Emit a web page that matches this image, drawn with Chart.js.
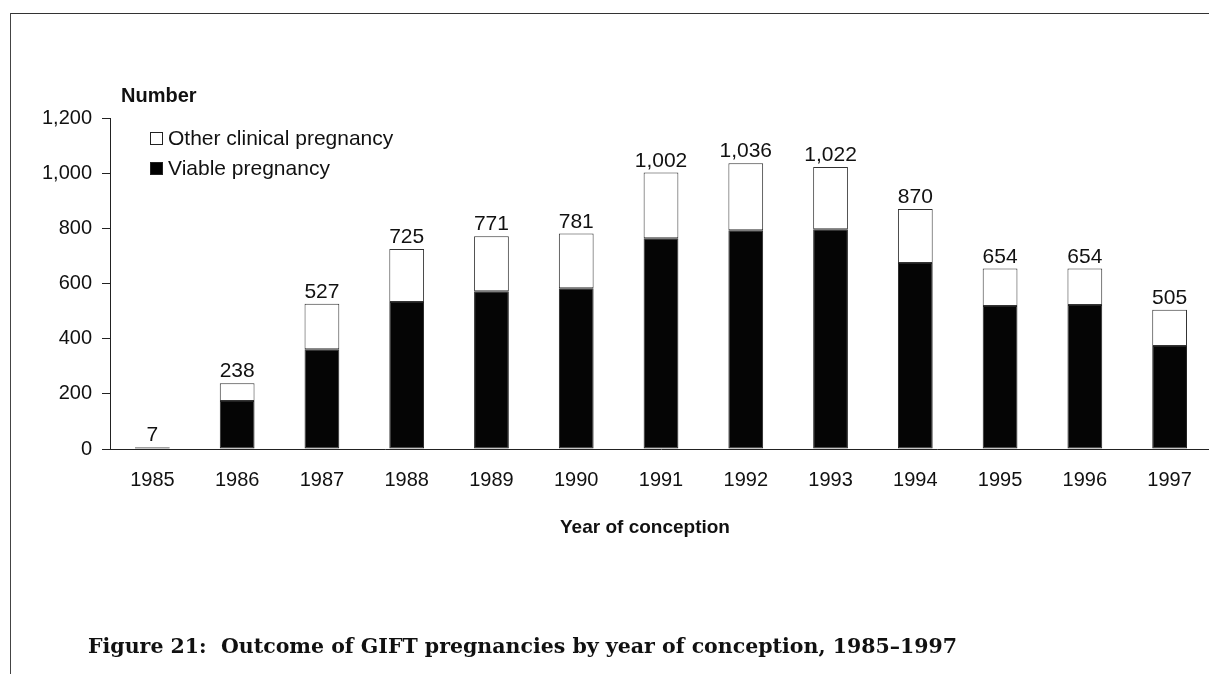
<!DOCTYPE html>
<html>
<head>
<meta charset="utf-8">
<script src="https://cdn.jsdelivr.net/npm/chart.js@4"></script>
<style>
  body { margin: 0; background: #fff; }
  #wrap { position: relative; width: 1209px; height: 674px; overflow: hidden; }
  #frameTop { position: absolute; left: 10px; top: 13px; width: 1199px; height: 1px; background: #333; }
  #frameLeft { position: absolute; left: 10px; top: 13px; width: 1px; height: 661px; background: #444; }
  .lbl { position: absolute; font-family: "Liberation Sans", Arial, sans-serif; color: #111; white-space: nowrap; line-height: 24px; }
  .box { display: inline-block; width: 11px; height: 11px; border: 1px solid #222; margin-right: 5px; vertical-align: 0px; }
  #caption { position: absolute; left: 88px; top: 634px; font-family: "DejaVu Serif", serif; font-weight: bold; font-size: 20.5px; color: #111; white-space: nowrap; }
  canvas { position: absolute; left: 0; top: 0; }
</style>
</head>
<body>
<div id="wrap">
  <canvas id="gift" width="1215" height="674"></canvas>
  <div id="frameTop"></div>
  <div id="frameLeft"></div>
  <div class="lbl" style="left:121px; top:83px; font-size:20px; font-weight:bold;">Number</div>
  <div class="lbl" style="left:150px; top:126px; font-size:21px;"><span class="box" style="background:#fff"></span>Other clinical pregnancy</div>
  <div class="lbl" style="left:150px; top:156px; font-size:21px;"><span class="box" style="background:#000"></span>Viable pregnancy</div>
  <div class="lbl" style="left:560px; top:515px; font-size:19px; font-weight:bold;">Year of conception</div>
  <div id="caption">Figure 21:&nbsp; Outcome of GIFT pregnancies by year of conception, 1985–1997</div>
</div>
<script>
// years and pregnancy counts
const years = ["1985", "1986", "1987", "1988", "1989", "1990", "1991", "1992", "1993", "1994", "1995", "1996", "1997"];
const totals = [7, 238, 527, 725, 771, 781, 1002, 1036, 1022, 870, 654, 654, 505];
const viable = [5, 174, 362, 533, 572, 583, 764, 793, 797, 674, 518, 522, 373];
const other = totals.map((t, i) => t - viable[i]);
const yTicks = [0, 200, 400, 600, 800, 1000, 1200];

// write the total above each stacked bar
const totalLabels = {
  id: "totalLabels",
  afterDatasetsDraw(chart) {
    const ctx = chart.ctx;
    const meta = chart.getDatasetMeta(1);
    ctx.save();
    ctx.font = "21px 'Liberation Sans', Arial, sans-serif";
    ctx.fillStyle = "#111";
    ctx.textAlign = "center";
    ctx.textBaseline = "alphabetic";
    meta.data.forEach((bar, i) => {
      ctx.fillText(totals[i].toLocaleString("en-US"), bar.x, bar.y - 6);
    });
    ctx.restore();
  }
};

new Chart(document.getElementById("gift"), {
  type: "bar",
  data: {
    labels: years,
    datasets: [
      {
        label: "Viable pregnancy",
        data: viable,
        backgroundColor: "#050505",
        borderColor: "#222",
        borderWidth: 1,
        borderSkipped: false,
        categoryPercentage: 1,
        barPercentage: 0.41
      },
      {
        label: "Other clinical pregnancy",
        data: other,
        backgroundColor: "#fff",
        borderColor: "#333",
        borderWidth: 1,
        borderSkipped: false,
        categoryPercentage: 1,
        barPercentage: 0.41
      }
    ]
  },
  options: {
    responsive: false,
    animation: false,
    layout: { padding: { top: 118, right: 3, left: 0, bottom: 0 } },
    plugins: { legend: { display: false }, tooltip: { enabled: false } },
    scales: {
      x: {
        stacked: true,
        grid: { display: false, drawTicks: false },
        border: { color: "#222", width: 1 },
        ticks: { color: "#111", padding: 19, font: { size: 20, family: "'Liberation Sans', Arial, sans-serif" } },
        afterFit: (s) => { s.height = 225; }
      },
      y: {
        stacked: true,
        min: 0,
        max: 1200,
        afterBuildTicks: (s) => { s.ticks = yTicks.map((v) => ({ value: v })); },
        grid: { drawOnChartArea: false, drawTicks: true, tickLength: 8, color: "#222" },
        border: { color: "#222", width: 1 },
        ticks: {
          color: "#111",
          padding: 10,
          font: { size: 20, family: "'Liberation Sans', Arial, sans-serif" },
          callback: (v) => v.toLocaleString("en-US")
        },
        afterFit: (s) => { s.width = 110; }
      }
    }
  },
  plugins: [totalLabels]
});
</script>
</body>
</html>
